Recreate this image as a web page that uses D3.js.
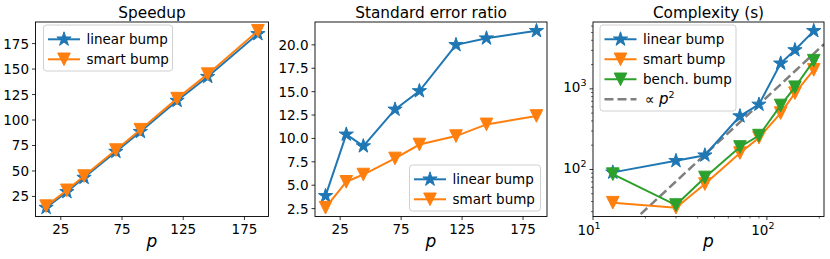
<!DOCTYPE html>
<html>
<head>
<meta charset="utf-8">
<script src="https://cdn.jsdelivr.net/npm/d3@7"></script>
<style>
  body { margin: 0; background: #fff; }
  svg { display: block; font-family: "DejaVu Sans", sans-serif; }
</style>
</head>
<body>
<div id="chart"></div>
<script>
// number of workers p (shared by all three panels)
const pValues = [13, 30, 44, 70, 90, 120, 145, 186];

// Speedup
const speedupLinear = [14, 29.5, 43.5, 69, 88.5, 119, 142.5, 184.5];
const speedupSmart  = [15.5, 31, 45, 70.5, 90.5, 121, 145, 187.5];

// Standard error ratio
const errLinear = [3.86, 10.43, 9.18, 13.1, 15.07, 20.0, 20.71, 21.5];
const errSmart  = [2.6, 5.36, 6.14, 7.86, 9.35, 10.25, 11.5, 12.4];

// Complexity (s)
const cplxLinear = [92, 128, 150, 459, 640, 2070, 3030, 5240];
const cplxSmart  = [38.7, 33.6, 65.9, 160, 248, 500, 883, 1718];
const cplxBench  = [87.5, 36.2, 79.6, 190, 263, 622, 1047, 2235];
// reference line  ∝ p^2 (end points)
const refP    = [10, 213];
const refVals = [7.9, 3580];

const linTicks = [25, 75, 125, 175];
const speedupTicks = [25, 50, 75, 100, 125, 150, 175];
const errTicks = [2.5, 5.0, 7.5, 10.0, 12.5, 15.0, 17.5, 20.0];

const width = 830, height = 259;
const plotTop = 22, plotBottom = 216.5;
const BLUE = "#1f77b4", ORANGE = "#ff7f0e", GREEN = "#2ca02c", GREY = "#7f7f7f";

const svg = d3.select("#chart").append("svg")
  .attr("width", width).attr("height", height);

svg.append("defs").selectAll("clipPath")
  .data([0, 1, 2]).enter().append("clipPath")
  .attr("id", d => "clip" + d)
  .append("rect");

// marker paths
let starPath = (r) => {
  let pts = [];
  for (let i = 0; i < 10; i++) {
    let rr = i % 2 === 0 ? r : r * 0.382;
    let a = -Math.PI / 2 + i * Math.PI / 5;
    pts.push([rr * Math.cos(a), rr * Math.sin(a)]);
  }
  return "M" + pts.map(p => p.join(",")).join("L") + "Z";
};
let triPath = (r) => `M0,${r}L${-r},${-r}L${r},${-r}Z`;

let pad = (ext, log) => {
  if (log) {
    let a = Math.log10(ext[0]), b = Math.log10(ext[1]), m = (b - a) * 0.05;
    return [Math.pow(10, a - m), Math.pow(10, b + m)];
  }
  let m = (ext[1] - ext[0]) * 0.05;
  return [ext[0] - m, ext[1] + m];
};

let drawPanel = (idx, left, right, title, series, opts) => {
  let g = svg.append("g");
  let xScale = opts.logX ? d3.scaleLog().domain(opts.xDomain).range([left, right])
                         : d3.scaleLinear().domain(pad(d3.extent(pValues))).range([left, right]);
  let allY = [].concat(...series.map(s => s.values));
  let yDom = pad(d3.extent(allY), opts.logY);
  let yScale = opts.logY ? d3.scaleLog().domain(yDom).range([plotBottom, plotTop])
                         : d3.scaleLinear().domain(yDom).range([plotBottom, plotTop]);

  d3.select("#clip" + idx + " rect")
    .attr("x", left).attr("y", plotTop).attr("width", right - left).attr("height", plotBottom - plotTop);

  // x ticks
  let xt = opts.logX ? [10, 100] : linTicks;
  g.selectAll(".xt").data(xt).enter().append("line")
    .attr("x1", d => xScale(d)).attr("x2", d => xScale(d))
    .attr("y1", plotBottom).attr("y2", plotBottom + 3.5)
    .attr("stroke", "#000").attr("stroke-width", 0.8);
  if (opts.logX) {
    let minor = [20, 30, 40, 50, 60, 70, 80, 90, 200];
    g.selectAll(".xm").data(minor).enter().append("line")
      .attr("x1", d => xScale(d)).attr("x2", d => xScale(d))
      .attr("y1", plotBottom).attr("y2", plotBottom + 2)
      .attr("stroke", "#000").attr("stroke-width", 0.6);
    let lab = g.selectAll(".xl").data([[10, "1"], [100, "2"]]).enter().append("text")
      .attr("x", d => xScale(d[0]) - 4).attr("y", 235)
      .attr("text-anchor", "middle").attr("font-size", 13.5);
    lab.append("tspan").text("10");
    lab.append("tspan").attr("dy", -6).attr("font-size", 9.5).text(d => d[1]);
  } else {
    g.selectAll(".xl").data(xt).enter().append("text")
      .attr("x", d => xScale(d)).attr("y", 233.5)
      .attr("text-anchor", "middle").attr("font-size", 13.5)
      .text(d => d);
  }

  // y ticks
  if (opts.logY) {
    let major = [100, 1000];
    let minor = [30, 40, 50, 60, 70, 80, 90, 200, 300, 400, 500, 600, 700, 800, 900,
                 2000, 3000, 4000, 5000, 6000];
    g.selectAll(".ym").data(minor).enter().append("line")
      .attr("x1", left - 2).attr("x2", left)
      .attr("y1", d => yScale(d)).attr("y2", d => yScale(d))
      .attr("stroke", "#000").attr("stroke-width", 0.6);
    g.selectAll(".yt").data(major).enter().append("line")
      .attr("x1", left - 3.5).attr("x2", left)
      .attr("y1", d => yScale(d)).attr("y2", d => yScale(d))
      .attr("stroke", "#000").attr("stroke-width", 0.8);
    let lab = g.selectAll(".yl").data([[100, "2"], [1000, "3"]]).enter().append("text")
      .attr("x", left - 6.5).attr("y", d => yScale(d[0]) + 3.5)
      .attr("text-anchor", "end").attr("font-size", 13.5);
    lab.append("tspan").text("10");
    lab.append("tspan").attr("dy", -6).attr("font-size", 9.5).text(d => d[1]);
  } else {
    g.selectAll(".yt").data(opts.yTicks).enter().append("line")
      .attr("x1", left - 3.5).attr("x2", left)
      .attr("y1", d => yScale(d)).attr("y2", d => yScale(d))
      .attr("stroke", "#000").attr("stroke-width", 0.8);
    g.selectAll(".yl").data(opts.yTicks).enter().append("text")
      .attr("x", left - 6.5).attr("y", d => yScale(d) + 5)
      .attr("text-anchor", "end").attr("font-size", 13.5)
      .text(d => opts.yFmt(d));
  }

  let plot = g.append("g").attr("clip-path", "url(#clip" + idx + ")");

  // reference line
  if (opts.ref) {
    plot.append("path")
      .attr("d", d3.line().x(d => xScale(d[0])).y(d => yScale(d[1]))(d3.zip(refP, refVals)))
      .attr("fill", "none").attr("stroke", GREY).attr("stroke-width", 2.5)
      .attr("stroke-dasharray", "9,4");
  }

  let line = d3.line().x((d, i) => xScale(pValues[i])).y(d => yScale(d));
  series.forEach(s => {
    plot.append("path").attr("d", line(s.values))
      .attr("fill", "none").attr("stroke", s.color).attr("stroke-width", 2);
    plot.selectAll(null).data(s.values).enter().append("path")
      .attr("transform", (d, i) => `translate(${xScale(pValues[i])},${yScale(d)})`)
      .attr("d", s.marker === "star" ? starPath(7.5) : triPath(6.3))
      .attr("fill", s.color).attr("stroke", s.color).attr("stroke-width", 1);
  });

  // spines
  g.append("rect").attr("x", left).attr("y", plotTop)
    .attr("width", right - left).attr("height", plotBottom - plotTop)
    .attr("fill", "none").attr("stroke", "#000").attr("stroke-width", 0.9);

  // title & xlabel
  g.append("text").attr("x", (left + right) / 2).attr("y", 17.5)
    .attr("text-anchor", "middle").attr("font-size", 15.3).text(title);
  g.append("text").attr("x", (left + right) / 2).attr("y", 246.5)
    .attr("text-anchor", "middle").attr("font-size", 17).attr("font-style", "italic")
    .text("p");

  // legend
  let L = opts.legend;
  let items = series.map(s => ({ label: s.label, color: s.color, marker: s.marker }));
  if (opts.ref) items.push({ label: "ref", color: GREY, marker: null });
  let lg = g.append("g");
  lg.append("rect").attr("x", L.x).attr("y", L.y).attr("width", L.w)
    .attr("height", items.length * 20 + 6).attr("rx", 3)
    .attr("fill", "#fff").attr("fill-opacity", 0.8)
    .attr("stroke", "#d0d0d0").attr("stroke-width", 1);
  items.forEach((it, i) => {
    let cy = L.y + 14.3 + i * 20;
    let x0 = L.x + 4.5, x1 = x0 + 32;
    lg.append("line").attr("x1", x0).attr("x2", x1).attr("y1", cy).attr("y2", cy)
      .attr("stroke", it.color).attr("stroke-width", it.marker ? 2 : 2.5)
      .attr("stroke-dasharray", it.marker ? null : "9,4");
    if (it.marker) {
      lg.append("path").attr("transform", `translate(${(x0 + x1) / 2},${cy})`)
        .attr("d", it.marker === "star" ? starPath(7.5) : triPath(6.3))
        .attr("fill", it.color).attr("stroke", it.color).attr("stroke-width", 1);
    }
    let t = lg.append("text").attr("x", x1 + 6.5).attr("y", cy + 4.8).attr("font-size", 13.5);
    if (it.label === "ref") {
      t.append("tspan").attr("dx", 2).text("\u221D ");
      t.append("tspan").attr("font-style", "italic").attr("font-size", 15).text("p");
      t.append("tspan").attr("dy", -6).attr("font-size", 9.5).text("2");
    } else {
      t.text(it.label);
    }
  });
};

drawPanel(0, 35.5, 268.5, "Speedup", [
  { label: "linear bump", values: speedupLinear, color: BLUE, marker: "star" },
  { label: "smart bump", values: speedupSmart, color: ORANGE, marker: "tri" }
], { yTicks: speedupTicks, yFmt: d => d, legend: { x: 43.5, y: 25, w: 129 } });

drawPanel(1, 315, 547, "Standard error ratio", [
  { label: "linear bump", values: errLinear, color: BLUE, marker: "star" },
  { label: "smart bump", values: errSmart, color: ORANGE, marker: "tri" }
], { yTicks: errTicks, yFmt: d => d.toFixed(1), legend: { x: 409.5, y: 165, w: 131 } });

drawPanel(2, 593, 824, "Complexity (s)", [
  { label: "linear bump", values: cplxLinear, color: BLUE, marker: "star" },
  { label: "smart bump", values: cplxSmart, color: ORANGE, marker: "tri" },
  { label: "bench. bump", values: cplxBench, color: GREEN, marker: "tri" }
], { logX: true, logY: true, xDomain: [10, 213], ref: true, legend: { x: 600, y: 25, w: 136 } });
</script>
</body>
</html>
